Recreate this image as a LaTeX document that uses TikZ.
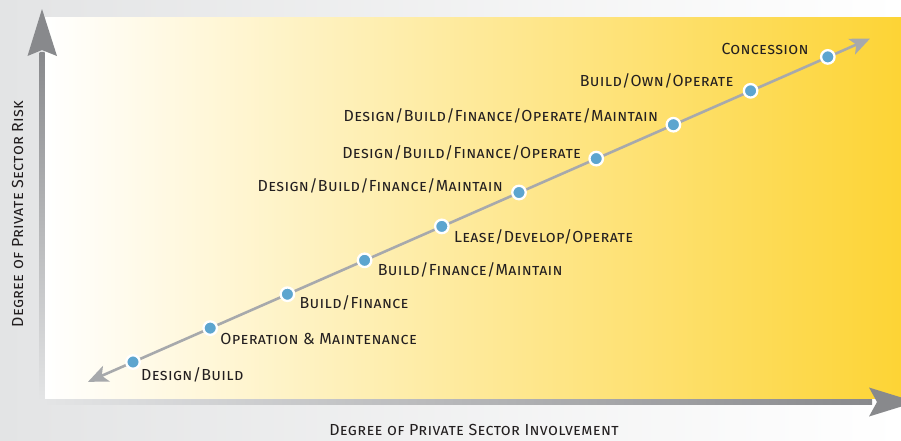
\documentclass[tikz,border=0pt]{standalone}
\usepackage{fontspec}
\setmainfont{Fira Sans}[LetterSpace=2]
\usetikzlibrary{arrows.meta}
\definecolor{goldfill}{HTML}{FDD435}
\definecolor{dotblue}{HTML}{5DA5CF}
\definecolor{linegray}{HTML}{A7A9AC}
\definecolor{axisdark}{HTML}{88898C}
\definecolor{axislight}{HTML}{E4E5E6}
\definecolor{bggray}{HTML}{E3E4E5}
\definecolor{textdark}{HTML}{231F20}
\begin{document}
\begin{tikzpicture}[x=1pt,y=-1pt,font=\fontsize{16}{18}\selectfont\scshape,
  stage/.style={circle,fill=dotblue,draw=white,line width=2.3pt,minimum size=13.5pt,inner sep=0},
  tag/.style={text=textdark,inner sep=0}]
  \useasboundingbox (0,0) rectangle (901,440);
  \clip (0,0) rectangle (901,440);
  \shade[left color=bggray,right color=white] (0,0) rectangle (901,440);
  \shade[left color=white,middle color=goldfill!52!white,right color=goldfill] (45,17.5) rectangle (901,398.5);
  \coordinate (origin) at (42,402);
  \coordinate (ytip) at (42,9);
  \coordinate (xtip) at (916,402);
  \shade[top color=axisdark,bottom color=axislight] (39.5,52) rectangle (44.5,400);
  \shade[left color=axislight,right color=axisdark] (42,399.5) rectangle (872,404.5);
  \fill[axisdark] (ytip) -- ([shift={(15,47)}]ytip) -- ([shift={(0,41)}]ytip)
    -- ([shift={(-14.5,47)}]ytip) -- cycle;
  \fill[axisdark] (xtip) -- ([shift={(-47,14.5)}]xtip) -- ([shift={(-39,0)}]xtip)
    -- ([shift={(-47,-14.5)}]xtip) -- cycle;
  \node[tag,anchor=base] (xlab) at (474,435) {Degree of Private Sector Involvement};
  \node[tag,anchor=base,rotate=90] (ylab) at (23,214) {Degree of Private Sector Risk};
  \coordinate (lo) at (88,381.8);
  \coordinate (hi) at (870,38.6);
  \draw[linegray,line width=2.6pt,{Stealth[length=20pt,width=17pt,inset=5pt]}-{Stealth[length=20pt,width=17pt,inset=5pt]}]
    (lo) -- (hi);
  \node[stage] (db) at (133,362) {};
  \node[stage] (om) at (210.2,328.1) {};
  \node[stage] (bf) at (287.4,294.2) {};
  \node[stage] (bfm) at (364.6,260.3) {};
  \node[stage] (ldo) at (441.8,226.4) {};
  \node[stage] (dbfm) at (519,192.5) {};
  \node[stage] (dbfo) at (596.2,158.6) {};
  \node[stage] (dbfom) at (673.4,124.7) {};
  \node[stage] (boo) at (750.6,90.8) {};
  \node[stage] (conc) at (827.8,56.9) {};
  \node[tag,anchor=base west] at ([shift={(8,18)}]db) {Design/Build};
  \node[tag,anchor=base west] at ([shift={(10,16)}]om) {Operation \& Maintenance};
  \node[tag,anchor=base west] at ([shift={(12,14)}]bf) {Build/Finance};
  \node[tag,anchor=base west] at ([shift={(13,15)}]bfm) {Build/Finance/Maintain};
  \node[tag,anchor=base west] at ([shift={(12,16)}]ldo) {Lease/Develop/Operate};
  \node[tag,anchor=base east] at ([shift={(-16,-1)}]dbfm) {Design/Build/Finance/Maintain};
  \node[tag,anchor=base east] at ([shift={(-15,0)}]dbfo) {Design/Build/Finance/Operate};
  \node[tag,anchor=base east] at ([shift={(-15,-3)}]dbfom) {Design/Build/Finance/Operate/Maintain};
  \node[tag,anchor=base east] at ([shift={(-17,-4)}]boo) {Build/Own/Operate};
  \node[tag,anchor=base east] at ([shift={(-19,-2)}]conc) {Concession};
\end{tikzpicture}
\end{document}
